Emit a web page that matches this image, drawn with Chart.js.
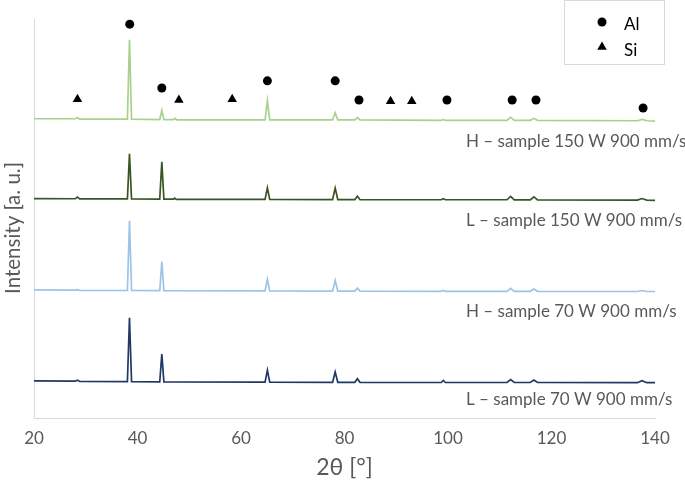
<!DOCTYPE html>
<html lang="en">
<head>
  <meta charset="UTF-8" />
  <title>XRD patterns</title>
  <style>
    html, body { margin: 0; padding: 0; background: #fff; }
    #wrap { width: 685px; height: 485px; }
  </style>
</head>
<body>
<div id="wrap"><canvas id="xrdChart" width="685" height="485"></canvas></div>

<script src="https://cdn.jsdelivr.net/npm/chart.js"></script>
<script>
// x axis ticks (2 theta, degrees)
const xTicks = [20, 40, 60, 80, 100, 120, 140];

const seriesNames = [
  'H – sample 150 W 900 mm/s',
  'L – sample 150 W 900 mm/s',
  'H – sample 70 W 900 mm/s',
  'L – sample 70 W 900 mm/s'
];
const seriesColors = ['#a9d18e', '#375623', '#9dc3e6', '#203864'];

// patterns: [2theta, intensity a.u.] (stacked, offsets included)
const h150 = [
  [20, 75.0], [28.0, 75.0], [28.4, 75.3], [28.8, 74.9], [38.05, 74.9], [38.45, 94.8], [38.85, 74.9],
  [44.3, 74.8], [44.7, 77.1], [45.1, 74.8], [47.0, 74.8], [47.3, 75.1], [47.6, 74.7],
  [64.65, 74.7], [65.1, 79.6], [65.55, 74.7], [77.7, 74.7], [78.2, 76.5], [78.7, 74.7],
  [82.0, 74.7], [82.5, 75.3], [83.0, 74.7], [98.7, 74.6], [99.1, 74.8], [99.5, 74.6],
  [111.4, 74.6], [112.1, 75.35], [112.8, 74.6], [115.9, 74.6], [116.6, 75.1], [117.3, 74.6],
  [136.6, 74.5], [137.5, 74.85], [138.4, 74.5], [140, 74.4]
];
const l150 = [
  [20, 55.0], [28.0, 54.95], [28.4, 55.35], [28.8, 54.9], [38.05, 54.9], [38.45, 66.2], [38.85, 54.9],
  [44.3, 54.85], [44.7, 64.2], [45.1, 54.85], [47.0, 54.85], [47.2, 55.1], [47.5, 54.8],
  [64.65, 54.8], [65.1, 57.7], [65.55, 54.8], [77.7, 54.75], [78.2, 57.6], [78.7, 54.75],
  [82.0, 54.75], [82.5, 55.6], [83.0, 54.7], [98.7, 54.7], [99.1, 54.95], [99.5, 54.7],
  [111.4, 54.7], [112.1, 55.55], [112.8, 54.65], [115.9, 54.65], [116.6, 55.4], [117.3, 54.65],
  [136.6, 54.6], [137.5, 55.0], [138.4, 54.6], [140, 54.55]
];
const h70 = [
  [20, 32.1], [28.0, 32.05], [28.4, 32.15], [28.8, 32.0], [38.05, 31.95], [38.45, 49.4], [38.85, 31.95],
  [44.3, 31.9], [44.7, 39.2], [45.1, 31.9], [64.65, 31.85], [65.1, 34.75], [65.55, 31.85],
  [77.7, 31.8], [78.2, 34.5], [78.7, 31.8], [82.0, 31.8], [82.5, 32.55], [83.0, 31.8],
  [98.7, 31.75], [99.1, 32.0], [99.5, 31.75], [111.4, 31.75], [112.1, 32.5], [112.8, 31.75],
  [115.9, 31.75], [116.6, 32.35], [117.3, 31.75], [136.6, 31.7], [137.5, 31.95], [138.4, 31.7], [140, 31.7]
];
const l70 = [
  [20, 9.3], [28.0, 9.25], [28.4, 9.5], [28.8, 9.2], [38.05, 9.1], [38.45, 25.1], [38.85, 9.1],
  [44.3, 9.05], [44.7, 16.0], [45.1, 9.05], [64.65, 9.0], [65.1, 12.0], [65.55, 9.0],
  [77.7, 8.95], [78.2, 11.55], [78.7, 8.95], [82.0, 8.95], [82.5, 9.85], [83.0, 8.95],
  [98.7, 8.9], [99.1, 9.4], [99.5, 8.9], [111.4, 8.9], [112.1, 9.65], [112.8, 8.9],
  [115.9, 8.9], [116.6, 9.5], [117.3, 8.9], [136.6, 8.85], [137.5, 9.35], [138.4, 8.85], [140, 8.85]
];

// phase markers above the top pattern
const alMarks = [[38.5, 98.7], [44.7, 82.7], [65.1, 84.5], [78.2, 84.5], [82.8, 79.7],
                 [99.8, 79.7], [112.4, 79.7], [117.0, 79.7], [137.7, 77.7]];
const siMarks = [[28.4, 79.9], [48.0, 79.7], [58.3, 79.9], [88.9, 79.4], [93.0, 79.4]];

const toXY = arr => arr.map(p => ({ x: p[0], y: p[1] }));
const grey = '#595959';
const fontName = 'Lato, Carlito, sans-serif';

const patterns = [h150, l150, h70, l70];
const labelY = [141.7, 220.7, 311.5, 399.5];

const lineSets = patterns.map((p, i) => ({
  label: seriesNames[i],
  data: toXY(p),
  showLine: true,
  borderColor: seriesColors[i],
  borderWidth: 1.7,
  pointRadius: 0,
  tension: 0,
  order: 2
}));

// series names, y title + legend box
const overlayPlugin = {
  id: 'overlay',
  afterDraw(chart) {
    const ctx = chart.ctx;
    ctx.save();
    ctx.fillStyle = grey;
    ctx.font = '17px ' + fontName;
    ctx.textAlign = 'left';
    ctx.textBaseline = 'middle';
    seriesNames.forEach((name, i) => ctx.fillText(name, 466, labelY[i]));

    // y axis title
    ctx.save();
    ctx.translate(13, 228);
    ctx.rotate(-Math.PI / 2);
    ctx.textAlign = 'center';
    ctx.font = '20.5px ' + fontName;
    ctx.fillText('Intensity [a. u.]', 0, 0);
    ctx.restore();

    // legend box
    ctx.fillStyle = '#fff';
    ctx.fillRect(564.5, 0.5, 100, 64);
    ctx.strokeStyle = '#d9d9d9';
    ctx.lineWidth = 1;
    ctx.strokeRect(564.5, 0.5, 100, 64);
    ctx.fillStyle = '#000';
    ctx.strokeStyle = '#000';
    const draw = Chart.helpers && Chart.helpers.drawPoint;
    if (draw) {
      draw(ctx, { pointStyle: 'circle', radius: 4.5, rotation: 0, borderWidth: 0 }, 602, 22);
      draw(ctx, { pointStyle: 'triangle', radius: 5.5, rotation: 0, borderWidth: 0 }, 602, 47);
    }
    ctx.fillStyle = '#000';
    ctx.font = '17px ' + fontName;
    ctx.fillText('Al', 624, 25);
    ctx.fillText('Si', 624, 51);
    ctx.restore();
  }
};

new Chart(document.getElementById('xrdChart'), {
  type: 'scatter',
  data: {
    datasets: [
      ...lineSets,
      { label: 'Al', data: toXY(alMarks), pointStyle: 'circle', pointRadius: 4.5,
        backgroundColor: '#000', borderColor: '#000', borderWidth: 0, order: 1 },
      { label: 'Si', data: toXY(siMarks), pointStyle: 'triangle', pointRadius: 5.5,
        backgroundColor: '#000', borderColor: '#000', borderWidth: 0, order: 1 }
    ]
  },
  options: {
    responsive: false,
    animation: false,
    devicePixelRatio: 1,
    layout: { padding: { top: 19, right: 30, left: 0, bottom: 0 } },
    scales: {
      x: {
        type: 'linear',
        min: 20,
        max: 140,
        afterFit: s => { s.height = 67; },
        afterBuildTicks: s => { s.ticks = xTicks.map(v => ({ value: v })); },
        grid: { display: false, drawTicks: false },
        border: { display: true, color: '#d9d9d9', width: 1 },
        ticks: { color: grey, font: { family: fontName, size: 17 }, padding: 10, maxRotation: 0 },
        title: { display: true, text: '2θ [°]', color: grey,
                 font: { family: fontName, size: 23 }, padding: { top: 0, bottom: 4 } }
      },
      y: {
        min: 0,
        max: 100,
        afterFit: s => { s.width = 34; },
        grid: { display: false, drawTicks: false },
        border: { display: true, color: '#d9d9d9', width: 1 },
        ticks: { display: false },
        title: { display: false }
      }
    },
    plugins: {
      legend: { display: false },
      tooltip: { enabled: false }
    }
  },
  plugins: [overlayPlugin]
});
</script>
</body>
</html>
